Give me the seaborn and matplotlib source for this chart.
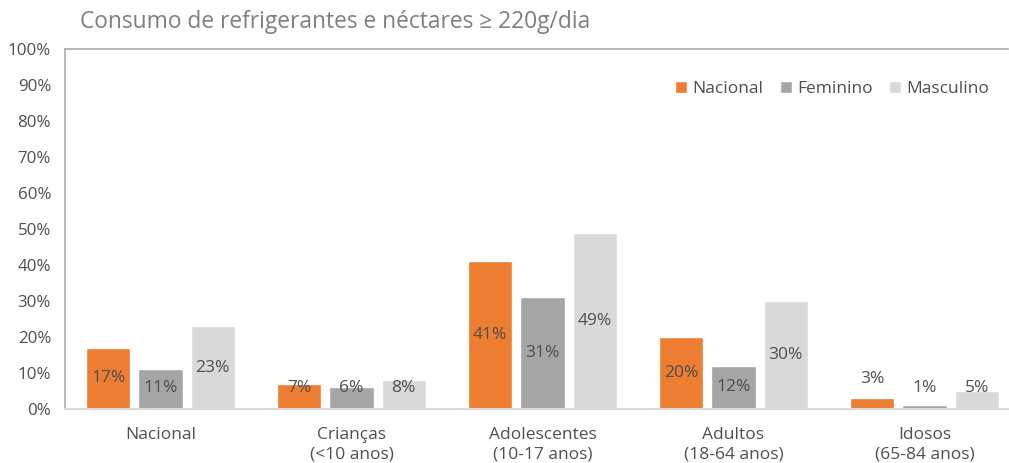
import matplotlib
matplotlib.use("Agg")
import matplotlib.pyplot as plt
import seaborn as sns
import pandas as pd

categories = ["Nacional", "Crianças\n(<10 anos)", "Adolescentes\n(10-17 anos)",
              "Adultos\n(18-64 anos)", "Idosos\n(65-84 anos)"]
series = ["Nacional", "Feminino", "Masculino"]
nacional = [17, 7, 41, 20, 3]
feminino = [11, 6, 31, 12, 1]
masculino = [23, 8, 49, 30, 5]
yticks = [0, 10, 20, 30, 40, 50, 60, 70, 80, 90, 100]
title = "Consumo de refrigerantes e néctares ≥ 220g/dia"

colors = ["#ED7D31", "#A5A5A5", "#D9D9D9"]
txt = "#4F4F4F"

rows = []
for s, vals in zip(series, [nacional, feminino, masculino]):
    for c, v in zip(categories, vals):
        rows.append({"cat": c, "serie": s, "val": v})
df = pd.DataFrame(rows)

sns.set_theme(style="white")
plt.rcParams["font.family"] = ["Open Sans", "DejaVu Sans"]

fig = plt.figure(figsize=(10.09, 4.63), dpi=100)
W, H = 1009, 463
ax = fig.add_axes([65 / W, (H - 409) / H, (1008 - 65) / W, (409 - 49) / H])

sns.barplot(data=df, x="cat", y="val", hue="serie", order=categories,
            hue_order=series, palette=colors, width=0.82, gap=0.15,
            saturation=1, ax=ax, legend=True)

ax.set_xlim(-0.5, -0.5 + 943 / 191)
ax.set_ylim(0, 100)
ax.set_yticks(yticks)
ax.set_yticklabels([f"{t}%" for t in yticks], color=txt, fontsize=12.2)
ax.tick_params(axis="x", colors=txt, labelsize=12.5, length=0, pad=13)
ax.tick_params(axis="y", length=0, pad=10)
for lbl in ax.get_xticklabels():
    lbl.set_color(txt)
    lbl.set_linespacing(1.25)
ax.set_xlabel("")
ax.set_ylabel("")

ax.spines["right"].set_visible(False)
ax.spines["left"].set_color("#ABABAB")
ax.spines["left"].set_linewidth(1.2)
ax.spines["top"].set_color("#ABABAB")
ax.spines["top"].set_linewidth(1.2)
ax.spines["bottom"].set_color("#D9D9D9")
ax.spines["bottom"].set_linewidth(1.5)

for container, s in zip(ax.containers, series):
    for bar, v in zip(container, container.datavalues):
        x = bar.get_x() + bar.get_width() / 2
        y = max(v / 2, 5.8)
        if s == "Nacional" and v < 5:
            y = 8.3
        ax.text(x, y, f"{v:.0f}%", ha="center", va="center", color=txt, fontsize=12.5)

leg = ax.legend(loc="upper right", bbox_to_anchor=(0.997, 0.955), ncol=3, frameon=False,
                fontsize=12.5, handlelength=0.7, handleheight=0.7, handletextpad=0.3,
                columnspacing=0.95, labelcolor=txt)

fig.text(80 / W, 1 - 22 / H, title, color="#7F7F7F", fontsize=16.4, ha="left", va="center")

fig.savefig("out.png", dpi=100)
